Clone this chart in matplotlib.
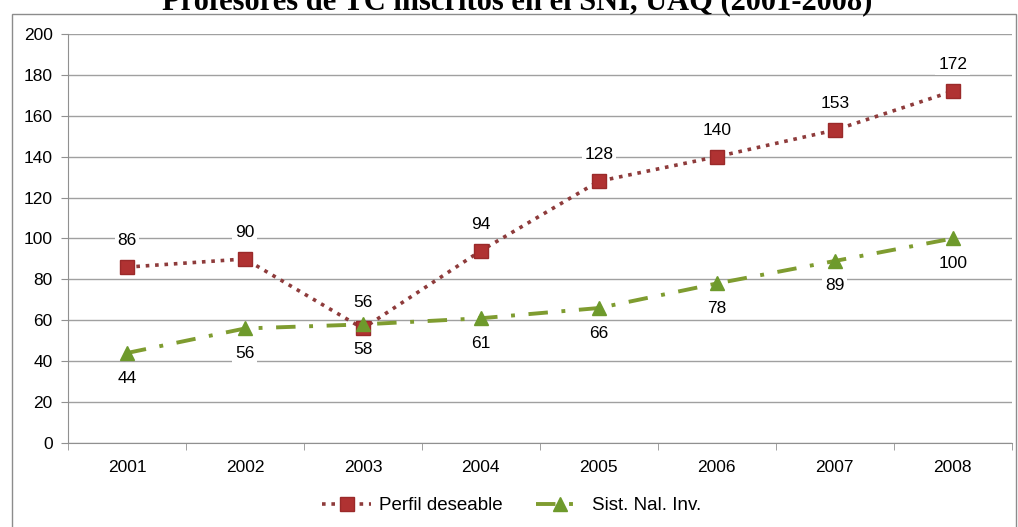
import numpy as np
import matplotlib.pyplot as plt
from matplotlib.patches import Rectangle

# data
years = ['2001', '2002', '2003', '2004', '2005', '2006', '2007', '2008']
perfil = [86, 90, 56, 94, 128, 140, 153, 172]
sni = [44, 56, 58, 61, 66, 78, 89, 100]
title = 'Profesores de TC inscritos en el SNI, UAQ (2001-2008)'

plt.rcParams['font.family'] = ['Liberation Sans', 'DejaVu Sans']

fig = plt.figure(figsize=(10.18, 5.27), dpi=100)
ax = fig.add_axes([0.0668, 0.1594, 0.927, 0.7761])

x = np.arange(len(years))
red_line = '#8E3B3B'
red_mark = '#B03232'
green_line = '#7F9C30'
green_mark = '#6E9A2C'

ax.plot(x, perfil, color=red_line, linestyle=(0, (1, 1.6)), linewidth=2.6,
        marker='s', markersize=9.5, markerfacecolor=red_mark,
        markeredgecolor='#9A2A2A', label='Perfil deseable', zorder=3)
ax.plot(x, sni, color=green_line, linestyle=(0, (5, 3.5, 1, 3.5)), linewidth=2.8,
        marker='^', markersize=10, markerfacecolor=green_mark,
        markeredgecolor=green_mark, label='Sist. Nal. Inv.', zorder=3)

# data labels
for xi, v in zip(x, perfil):
    ax.annotate(str(v), (xi, v), xytext=(0, 19), textcoords='offset points',
                ha='center', va='center', fontsize=12.5,
                bbox=dict(facecolor='white', edgecolor='none', pad=2), zorder=4)
for xi, v in zip(x, sni):
    ax.annotate(str(v), (xi, v), xytext=(0, -18), textcoords='offset points',
                ha='center', va='center', fontsize=12.5,
                bbox=dict(facecolor='white', edgecolor='none', pad=2), zorder=4)

ax.set_xlim(-0.5, len(years) - 0.5)
ax.set_ylim(0, 200)
ax.set_yticks(np.arange(0, 201, 20))
ax.set_xticks(x)
ax.set_xticklabels(years)
ax.set_xticks(np.arange(-0.5, len(years), 1), minor=True)
ax.tick_params(axis='x', which='major', length=0, pad=12, labelsize=12.5)
ax.tick_params(axis='x', which='minor', length=5, color='#909090', direction='out')
ax.tick_params(axis='y', length=5, color='#909090', direction='out', pad=6, labelsize=12.5)

ax.grid(axis='y', color='#A0A0A0', linewidth=1)
ax.set_axisbelow(True)
for s in ['top', 'right']:
    ax.spines[s].set_visible(False)
ax.spines['left'].set_color('#909090')
ax.spines['bottom'].set_color('#909090')

fig.text(0.508, 0.983, title, ha='center', va='baseline', fontsize=22,
         fontweight='bold', family='Liberation Serif')

# chart border
fig.patches.append(Rectangle((0.0118, -0.01), 0.986, 0.9834, transform=fig.transFigure,
                             fill=False, edgecolor='#8C8C8C', linewidth=1))

fig.legend(loc='center', bbox_to_anchor=(0.503, 0.04), ncol=2, frameon=False,
           fontsize=13.5, handlelength=2.6, columnspacing=1.8, handletextpad=0.4)

fig.savefig('out.png', dpi=100)
